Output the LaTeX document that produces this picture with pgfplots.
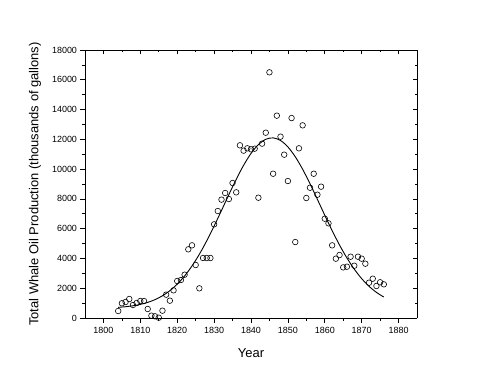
\documentclass[border=0pt]{standalone}
\usepackage{fontspec}
\setmainfont{Liberation Sans}
\usepackage{pgfplots}
\pgfplotsset{compat=1.18}
\begin{document}
\begin{tikzpicture}
\path[use as bounding box] (-85bp,-67bp) rectangle (415bp,318bp);
\pgfplotsset{
  common/.style={
    scale only axis, width=332bp, height=268bp,
    xmin=1795, xmax=1885, ymin=0, ymax=18000,
    xtick={1800,1810,...,1880}, ytick={0,2000,...,18000},
    scaled ticks=false,
    minor x tick num=1, minor y tick num=1,
    major tick length=4.5bp, minor tick length=2.5bp,
    /pgf/number format/1000 sep={},
    /pgf/number format/assume math mode=true,
    tick style={black, line width=0.6pt},
    axis line style={line width=0.8pt},
  }
}
\begin{axis}[common,
  axis x line*=bottom, axis y line*=left,
  tick align=outside,
  ticklabel style={font=\fontsize{9}{10}\selectfont},
  xticklabel style={yshift=-1.5bp},
  xlabel={Year}, ylabel={Total Whale Oil Production (thousands of gallons)},
  label style={font=\fontsize{13}{15}\selectfont},
  xlabel style={at={(axis description cs:0.5,-0.13)}, anchor=center},
  ylabel style={at={(axis description cs:-0.1506,0.5)}, anchor=center},
]
\addplot[only marks, mark=o, mark size=2.8bp, mark options={line width=0.6pt, black}] coordinates {
(1804,470) (1805,990) (1806,1075) (1807,1276) (1808,873) (1809,1007) (1810,1141)
(1811,1141) (1812,604) (1813,157) (1814,112) (1815,20) (1816,492) (1817,1567)
(1818,1164) (1819,1858) (1820,2485) (1821,2552) (1822,2910) (1823,4612) (1824,4880)
(1825,3560) (1826,1992) (1827,4030) (1828,4030) (1829,4030) (1830,6290) (1831,7186)
(1832,7950) (1833,8395) (1834,7990) (1835,9066) (1836,8440) (1837,11598) (1838,11240)
(1839,11396) (1840,11330) (1841,11374) (1842,8080) (1843,11710) (1844,12446) (1845,16500)
(1846,9690) (1847,13590) (1848,12180) (1849,10970) (1850,9200) (1851,13430) (1852,5100)
(1853,11396) (1854,12940) (1855,8060) (1856,8750) (1857,9690) (1858,8280) (1859,8820)
(1860,6670) (1861,6360) (1862,4880) (1863,3985) (1864,4230) (1865,3400) (1866,3445)
(1867,4117) (1868,3512) (1869,4117) (1870,3985) (1871,3647) (1872,2370) (1873,2640)
(1874,2150) (1875,2400) (1876,2260)
};
\addplot[black, line width=0.9pt, smooth] coordinates {
(1804,717) (1806,758) (1808,821) (1810,914) (1812,1048) (1814,1236) (1816,1492)
(1818,1833) (1820,2272) (1822,2823) (1824,3493) (1826,4282) (1828,5182) (1830,6174)
(1832,7221) (1834,8287) (1836,9318) (1838,10258) (1840,11051) (1842,11645) (1844,12002)
(1846,12099) (1848,11923) (1850,11491) (1852,10831) (1854,9989) (1856,9015) (1858,7969)
(1860,6902) (1862,5868) (1864,4901) (1866,4034) (1868,3279) (1870,2646) (1872,2129)
(1874,1721) (1876,1407)
};
\end{axis}
\begin{axis}[common,
  axis x line*=top, axis y line*=right,
  tick align=inside,
  xticklabels={}, yticklabels={},
]
\addplot[draw=none] coordinates {(1800,0)};
\end{axis}
\end{tikzpicture}
\end{document}
